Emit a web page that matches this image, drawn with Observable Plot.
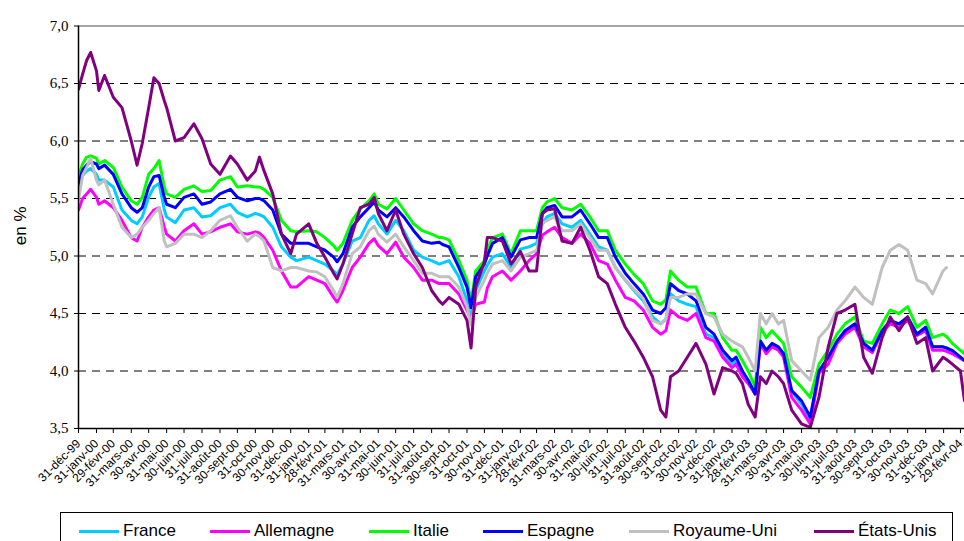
<!DOCTYPE html>
<html><head><meta charset="utf-8">
<script src="https://cdn.jsdelivr.net/npm/d3@7"></script>
<script src="https://cdn.jsdelivr.net/npm/@observablehq/plot@0.6"></script>
<style>
body{margin:0;background:#fff;font-family:"Liberation Sans",Arial,sans-serif;}
#wrap{position:relative;width:964px;height:541px;overflow:hidden;background:#fff;}
#legend{position:absolute;left:60px;top:512px;width:893px;height:40px;border:1px solid #000;box-sizing:border-box;}
.item{position:absolute;top:7px;height:22px;display:flex;align-items:center;font-size:17px;line-height:22px;color:#000;white-space:nowrap;}
.sw{display:inline-block;width:40px;height:3px;margin-right:4px;}
</style></head>
<body><div id="wrap"><div id="chart"></div><div id="legend"></div></div>
<script>
const countries = ["France","Allemagne","Italie","Espagne","Royaume-Uni","États-Unis"];
const colors = ["#00CCFF","#FF00FF","#00FF00","#0000FF","#C0C0C0","#800080"];

const dates = [
"1999-12-31","2000-01-07","2000-01-14","2000-01-21","2000-01-31","2000-02-04","2000-02-14","2000-02-29","2000-03-15","2000-03-31","2000-04-10","2000-04-19","2000-04-30","2000-05-09","2000-05-18","2000-05-27","2000-05-31","2000-06-15","2000-06-30","2000-07-17","2000-07-31","2000-08-15","2000-08-31","2000-09-18","2000-09-30","2000-10-17","2000-10-31","2000-11-07","2000-11-15","2000-11-30","2000-12-15","2000-12-31","2001-01-10",
"2001-01-31","2001-02-14","2001-02-28","2001-03-15","2001-03-21","2001-03-31","2001-04-16","2001-04-30","2001-05-15","2001-05-24","2001-05-31","2001-06-15","2001-06-30","2001-07-14","2001-07-31","2001-08-15","2001-08-31","2001-09-13","2001-09-19","2001-09-30","2001-10-17","2001-10-31","2001-11-07","2001-11-15","2001-11-30","2001-12-05","2001-12-14","2001-12-31","2002-01-15","2002-01-31",
"2002-02-15","2002-02-28","2002-03-10","2002-03-18","2002-03-31","2002-04-13","2002-04-30","2002-05-15","2002-05-31","2002-06-15","2002-06-30","2002-07-14","2002-07-31","2002-08-15","2002-08-31","2002-09-16","2002-09-30","2002-10-09","2002-10-17","2002-10-31","2002-11-15","2002-11-30","2002-12-17","2002-12-31","2003-01-15","2003-01-31",
"2003-02-07","2003-02-18","2003-02-28","2003-03-12","2003-03-21","2003-03-31","2003-04-10","2003-04-21","2003-04-30","2003-05-14","2003-05-31","2003-06-15","2003-06-30","2003-07-16","2003-07-31","2003-08-14","2003-08-31","2003-09-15","2003-09-30","2003-10-17","2003-10-31","2003-11-15","2003-11-30","2003-12-16","2003-12-31","2004-01-12","2004-01-30","2004-02-05","2004-02-15","2004-02-29","2004-03-07"];

const france = [
5.58,5.70,5.74,5.76,5.71,5.66,5.66,5.60,5.40,5.31,5.28,5.34,5.51,5.60,5.63,5.40,5.34,5.29,5.40,5.42,5.34,5.35,5.42,5.45,5.38,5.34,5.37,5.36,5.34,5.25,5.08,4.99,4.96,
4.99,4.96,4.93,4.87,4.84,4.93,5.13,5.16,5.31,5.35,5.28,5.19,5.31,5.22,5.05,4.99,4.96,4.93,4.94,4.96,4.82,4.61,4.45,4.70,4.87,4.92,4.99,5.02,4.90,5.06,
5.08,5.11,5.28,5.34,5.37,5.28,5.25,5.31,5.19,5.08,5.05,4.90,4.79,4.70,4.61,4.47,4.41,4.45,4.67,4.61,4.58,4.56,4.32,4.29,4.15,4.06,
4.09,3.98,3.92,3.80,4.26,4.18,4.23,4.19,4.13,3.82,3.71,3.57,3.99,4.11,4.25,4.35,4.40,4.24,4.18,4.35,4.42,4.41,4.45,4.32,4.38,4.21,4.21,4.20,4.16,4.12,4.09];

const allemagne = [
5.40,5.50,5.54,5.58,5.51,5.45,5.48,5.42,5.31,5.16,5.13,5.25,5.34,5.40,5.42,5.25,5.19,5.13,5.22,5.28,5.19,5.21,5.25,5.28,5.21,5.19,5.21,5.20,5.16,5.05,4.87,4.73,4.73,
4.82,4.79,4.76,4.64,4.60,4.70,4.90,4.99,5.11,5.15,5.09,5.02,5.12,4.99,4.90,4.79,4.79,4.76,4.76,4.76,4.67,4.53,4.45,4.58,4.60,4.72,4.82,4.87,4.79,4.87,
4.96,5.02,5.18,5.21,5.25,5.16,5.11,5.19,5.11,4.96,4.93,4.79,4.64,4.61,4.53,4.38,4.32,4.35,4.53,4.47,4.44,4.50,4.29,4.26,4.12,4.03,
4.06,3.95,3.89,3.80,4.24,4.15,4.21,4.18,4.12,3.77,3.66,3.54,3.98,4.06,4.24,4.32,4.38,4.21,4.16,4.34,4.41,4.38,4.44,4.31,4.35,4.18,4.18,4.17,4.15,4.11,4.09];

const italie = [
5.69,5.80,5.86,5.87,5.85,5.80,5.83,5.77,5.60,5.48,5.45,5.51,5.71,5.76,5.83,5.60,5.54,5.51,5.58,5.61,5.56,5.57,5.66,5.69,5.60,5.61,5.60,5.60,5.58,5.51,5.31,5.22,5.21,
5.22,5.21,5.16,5.09,5.05,5.11,5.31,5.41,5.48,5.54,5.45,5.41,5.50,5.40,5.28,5.22,5.19,5.16,5.16,5.14,4.96,4.79,4.60,4.87,4.96,5.05,5.16,5.19,5.02,5.22,
5.22,5.22,5.42,5.47,5.50,5.42,5.40,5.45,5.34,5.22,5.22,5.05,4.93,4.84,4.76,4.61,4.58,4.62,4.87,4.79,4.73,4.73,4.50,4.50,4.29,4.18,
4.18,4.09,4.00,3.86,4.38,4.29,4.35,4.29,4.24,3.95,3.86,3.77,4.06,4.18,4.32,4.41,4.47,4.26,4.24,4.41,4.53,4.50,4.56,4.38,4.44,4.29,4.32,4.30,4.24,4.18,4.15];

const espagne = [
5.62,5.75,5.79,5.82,5.80,5.76,5.79,5.71,5.54,5.42,5.38,5.42,5.60,5.69,5.70,5.51,5.45,5.42,5.51,5.54,5.45,5.47,5.54,5.58,5.51,5.48,5.50,5.50,5.48,5.40,5.19,5.11,5.11,
5.11,5.08,5.05,4.99,4.95,5.02,5.25,5.34,5.42,5.47,5.40,5.34,5.42,5.34,5.22,5.13,5.11,5.12,5.10,5.08,4.90,4.73,4.55,4.82,4.93,5.00,5.11,5.16,4.99,5.14,
5.16,5.16,5.37,5.42,5.44,5.34,5.34,5.40,5.28,5.16,5.16,4.99,4.85,4.76,4.67,4.53,4.50,4.55,4.76,4.70,4.67,4.61,4.38,4.32,4.18,4.09,
4.12,4.00,3.92,3.80,4.26,4.18,4.24,4.21,4.15,3.83,3.74,3.60,4.00,4.12,4.26,4.35,4.41,4.24,4.18,4.35,4.44,4.41,4.47,4.32,4.38,4.21,4.21,4.20,4.18,4.12,4.09];

const royaumeUni = [
5.48,5.70,5.77,5.85,5.66,5.62,5.66,5.45,5.25,5.16,5.19,5.25,5.31,5.37,5.42,5.13,5.08,5.11,5.19,5.19,5.16,5.22,5.31,5.35,5.25,5.13,5.19,5.17,5.13,4.90,4.87,4.90,4.90,
4.87,4.86,4.82,4.70,4.64,4.76,5.02,5.08,5.22,5.26,5.19,5.12,5.19,5.08,4.96,4.85,4.85,4.82,4.82,4.82,4.73,4.56,4.40,4.64,4.79,4.85,4.93,4.96,4.87,4.99,
5.02,5.05,5.28,5.31,5.34,5.22,5.22,5.28,5.16,5.05,5.05,4.90,4.79,4.71,4.63,4.44,4.41,4.45,4.64,4.64,4.67,4.67,4.50,4.47,4.32,4.26,
4.24,4.21,4.12,4.00,4.50,4.41,4.50,4.41,4.44,4.09,4.00,3.92,4.29,4.38,4.53,4.61,4.73,4.64,4.58,4.90,5.05,5.10,5.05,4.79,4.76,4.67,4.87,4.90,null,null,null];

const etatsUnis = [
6.45,6.58,6.70,6.77,6.61,6.44,6.57,6.38,6.29,6.00,5.79,5.98,6.29,6.55,6.50,6.35,6.29,6.00,6.03,6.15,6.02,5.80,5.71,5.87,5.80,5.66,5.74,5.86,5.74,5.54,5.19,5.02,5.19,
5.28,5.11,4.99,4.85,4.80,4.93,5.19,5.42,5.45,5.51,5.37,5.22,5.40,5.19,5.02,4.90,4.70,4.61,4.58,4.64,4.58,4.44,4.20,4.73,4.95,5.16,5.16,5.13,4.93,5.04,
4.87,4.87,5.37,5.40,5.41,5.13,5.11,5.25,5.05,4.82,4.76,4.58,4.38,4.26,4.12,3.95,3.66,3.60,3.95,4.00,4.12,4.24,4.06,3.80,4.03,4.00,
3.98,3.89,3.71,3.60,3.95,3.89,4.00,3.95,3.89,3.66,3.54,3.51,3.77,4.21,4.50,4.53,4.58,4.12,3.98,4.29,4.47,4.35,4.47,4.24,4.29,4.00,4.12,4.10,4.06,4.00,3.74];

const tickLabels = ["31-déc-99","31-janv-00","29-févr-00","31-mars-00","30-avr-00","31-mai-00","30-juin-00","31-juil-00","31-août-00","30-sept-00","31-oct-00","30-nov-00","31-déc-00","31-janv-01","28-févr-01","31-mars-01","30-avr-01","31-mai-01","30-juin-01","31-juil-01","31-août-01","30-sept-01","31-oct-01","30-nov-01","31-déc-01","31-janv-02","28-févr-02","31-mars-02","30-avr-02","31-mai-02","30-juin-02","31-juil-02","31-août-02","30-sept-02","31-oct-02","30-nov-02","31-déc-02","31-janv-03","28-févr-03","31-mars-03","30-avr-03","31-mai-03","30-juin-03","31-juil-03","31-août-03","30-sept-03","31-oct-03","30-nov-03","31-déc-03","31-janv-04","29-févr-04"];
const yTicks = [3.5,4.0,4.5,5.0,5.5,6.0,6.5,7.0];
const gridLines = [4.0,4.5,5.0,5.5,6.0,6.5];
const xStart = "1999-12-31", xEnd = "2004-03-07";

const series = [france, allemagne, italie, espagne, royaumeUni, etatsUnis];
const rows = [];
series.forEach((vals, s) => vals.forEach((v, i) => {
  if (v != null) rows.push({pays: countries[s], date: new Date(dates[i]), value: v});
}));

const moisFr = {"janv":0,"févr":1,"mars":2,"avr":3,"mai":4,"juin":5,"juil":6,"août":7,"sept":8,"oct":9,"nov":10,"déc":11};
const tickDates = tickLabels.map(l => {
  const [d, m, y] = l.split("-");
  const yr = +y < 50 ? 2000 + (+y) : 1900 + (+y);
  return new Date(Date.UTC(yr, moisFr[m], +d));
});
const labelMap = new Map(tickDates.map((d, i) => [+d, tickLabels[i]]));

const chart = Plot.plot({
  width: 964, height: 505,
  marginLeft: 78, marginRight: 0, marginTop: 25.5, marginBottom: 77,
  style: {fontFamily: '"Liberation Sans", Arial, sans-serif', fontSize: "12px", color: "#000", background: "#fff"},
  x: {type: "utc", domain: [new Date(xStart), new Date(xEnd)]},
  y: {domain: [3.5, 7]},
  color: {domain: countries, range: colors},
  marks: [
    Plot.ruleY(gridLines, {stroke: "#000", strokeDasharray: "8,6", strokeWidth: 1}),
    Plot.ruleY([7], {stroke: "#888", strokeWidth: 1.5}),
    Plot.line(rows, {x: "date", y: "value", z: "pays", stroke: "pays", strokeWidth: 3, clip: true}),
    Plot.ruleX([new Date(xStart)], {stroke: "#000", strokeWidth: 1.5}),
    Plot.ruleY([3.5], {stroke: "#000", strokeWidth: 1.5}),
    Plot.axisY({ticks: yTicks, tickFormat: d => d.toFixed(1).replace(".", ","), tickSize: 4, tickPadding: 6,
      fontFamily: '"Liberation Serif", "Times New Roman", serif', fontSize: 15, label: null}),
    Plot.axisX({ticks: tickDates, tickFormat: d => labelMap.get(+d), tickRotate: -45, tickSize: 5, tickPadding: 8,
      fontSize: 12, label: null}),
    Plot.text(["en %"], {frameAnchor: "left", dx: -58, dy: 18, rotate: -90, fontSize: 17})
  ]
});
document.getElementById("chart").appendChild(chart);

const legendPos = [18, 149, 308, 422, 568, 753];
const legend = document.getElementById("legend");
countries.forEach((c, i) => {
  const it = document.createElement("div");
  it.className = "item";
  it.style.left = legendPos[i] + "px";
  it.innerHTML = `<span class="sw" style="background:${colors[i]}"></span><span>${c}</span>`;
  legend.appendChild(it);
});
</script>
</body></html>
